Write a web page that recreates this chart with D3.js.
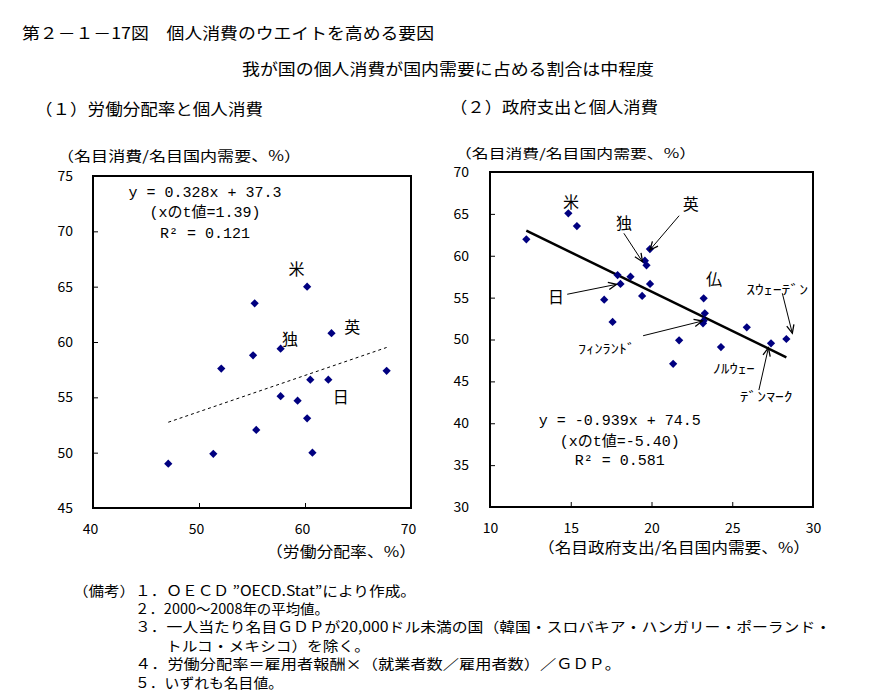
<!DOCTYPE html>
<html><head><meta charset="utf-8">
<script src="https://cdn.jsdelivr.net/npm/d3@7"></script>
<style>
html,body{margin:0;padding:0;background:#fff;}
svg{display:block;}
text{font-family:"Noto Sans CJK JP","Noto Sans",sans-serif;fill:#000;}
text.eq{font-family:"Liberation Mono","DejaVu Sans Mono","Noto Sans CJK JP",monospace;}
</style></head>
<body>
<svg id="chart" width="881" height="696"></svg>
<script>
// ---------- data ----------
const leftXTicks = [40, 50, 60, 70];
const leftYTicks = [45, 50, 55, 60, 65, 70, 75];
const laborShare = [47.1, 51.35, 52.1, 55.25, 55.1, 55.4, 57.7, 57.7, 59.3, 60.2, 60.2, 60.5, 60.7, 62.2, 62.5, 67.7];
const consumptionL = [49.0, 49.9, 57.6, 63.5, 58.8, 52.05, 59.4, 55.1, 54.7, 65.0, 53.1, 56.6, 50.0, 56.6, 60.8, 57.4];
const leftCoef = {slope: 0.328, intercept: 37.3};
const leftEq = ["y = 0.328x + 37.3", "(xのt値=1.39)", "R² = 0.121"];

const rightXTicks = [10, 15, 20, 25, 30];
const rightYTicks = [30, 35, 40, 45, 50, 55, 60, 65, 70];
const govShare = [12.25, 14.85, 15.38, 17.07, 17.59, 17.9, 18.08, 18.7, 19.42, 19.59, 19.69, 19.9, 19.91, 21.34, 21.71, 23.23, 23.3, 23.23, 23.19, 24.3, 25.9, 27.4, 28.35];
const consumptionR = [61.96, 65.07, 63.55, 54.75, 52.1, 57.7, 56.63, 57.5, 55.2, 59.41, 58.86, 60.8, 56.63, 47.1, 49.9, 54.92, 53.13, 52.24, 51.93, 49.1, 51.45, 49.55, 50.06];
const rightCoef = {slope: -0.939, intercept: 74.5};
const rightEq = ["y = -0.939x + 74.5", "(xのt値=-5.40)", "R² = 0.581"];

// label annotations (data coordinates)
const leftLabels = [
  {t: "米", x: 59.2, y: 66.66}, {t: "英", x: 64.46, y: 61.48},
  {t: "独", x: 58.58, y: 60.39}, {t: "日", x: 63.37, y: 55.15}
];
const rightLabels = [
  {t: "米", x: 15.01, y: 66.54, s: 16}, {t: "英", x: 22.43, y: 66.33, s: 16},
  {t: "独", x: 18.29, y: 64.07, s: 16}, {t: "仏", x: 23.87, y: 57.31, s: 16},
  {t: "日", x: 14.08, y: 55.19, s: 16},
  {t: "ﾌｨﾝﾗﾝﾄﾞ", x: 17.22, y: 49.02, s: 13, w: 57},
  {t: "ﾉﾙｳｪｰ", x: 25.09, y: 46.63, s: 13, w: 42},
  {t: "ﾃﾞﾝﾏｰｸ", x: 27.1, y: 43.37, s: 13, w: 53},
  {t: "ｽｳｪｰﾃﾞﾝ", x: 27.78, y: 56.11, s: 13, w: 62}
];
const rightArrows = [
  {x1: 18.29, y1: 62.68, x2: 19.44, y2: 59.29},
  {x1: 21.71, y1: 64.78, x2: 19.9, y2: 60.69},
  {x1: 14.78, y1: 55.4, x2: 17.84, y2: 56.59},
  {x1: 19.48, y1: 50.45, x2: 23.15, y2: 52.21},
  {x1: 26.65, y1: 43.97, x2: 27.24, y2: 49.02},
  {x1: 28.1, y1: 55.52, x2: 28.72, y2: 50.74}
];
const notes = [
  "１．ＯＥＣＤ ”OECD.Stat”により作成。",
  "２．2000～2008年の平均値。",
  "３．一人当たり名目ＧＤＰが20,000ドル未満の国（韓国・スロバキア・ハンガリー・ポーランド・",
  "トルコ・メキシコ）を除く。",
  "４．労働分配率＝雇用者報酬×（就業者数／雇用者数）／ＧＤＰ。",
  "５．いずれも名目値。"
];

// ---------- drawing ----------
const svg = d3.select("#chart");
function txt(s, x, y, opts = {}) {
  const t = svg.append("text").attr("x", x).attr("y", y)
    .attr("dominant-baseline", "central")
    .attr("font-size", opts.size || 15)
    .attr("text-anchor", opts.anchor || "start")
    .text(s);
  if (opts.len) t.attr("textLength", opts.len).attr("lengthAdjust", "spacingAndGlyphs");
  return t;
}

txt("第２－１－17図　個人消費のウエイトを高める要因", 22, 32, {size: 16, len: 412});
txt("我が国の個人消費が国内需要に占める割合は中程度", 242, 68, {size: 16, len: 412});
txt("（１）労働分配率と個人消費", 35, 108, {size: 16, len: 228});
txt("（２）政府支出と個人消費", 450, 106, {size: 16, len: 208});
txt("（名目消費/名目国内需要、%）", 57, 155, {size: 14, len: 244});
txt("（名目消費/名目国内需要、%）", 455, 152, {size: 13, len: 241});
txt("（労働分配率、%）", 266, 550, {size: 15, len: 150});
txt("（名目政府支出/名目国内需要、%）", 538, 546, {size: 15, len: 272});

// notes
txt("（備考）", 73, 590, {size: 14, len: 62});
const noteX = [135, 135, 135, 166, 135, 135];
const noteY = [590, 608, 626, 645, 663, 682];
const noteLen = [281, 194, 696, 204, 486, 148];
notes.forEach((n, i) => txt(n, noteX[i], noteY[i], {size: 14, len: noteLen[i]}));

const markerColor = "#000080";
const diamond = d3.symbol().type(d3.symbolSquare).size(34);

function panel(cfg) {
  const x = d3.scaleLinear().domain(cfg.xDomain).range([cfg.left, cfg.right]);
  const y = d3.scaleLinear().domain(cfg.yDomain).range([cfg.bottom, cfg.top]);
  const g = svg.append("g");
  // y axis
  g.append("g").attr("transform", `translate(${cfg.left},0)`)
    .call(d3.axisLeft(y).tickValues(cfg.yTicks).tickSize(-5).tickPadding(cfg.yPad).tickFormat(d3.format("d")))
    .call(a => { a.select(".domain").remove(); a.selectAll("line").attr("stroke", "#000").attr("stroke-width", 1);
      a.selectAll("text").attr("font-size", 14).attr("fill", "#000"); });
  // x axis
  g.append("g").attr("transform", `translate(0,${cfg.bottom})`)
    .call(d3.axisBottom(x).tickValues(cfg.xTicks).tickSize(-5).tickPadding(16).tickFormat(d3.format("d")))
    .call(a => { a.select(".domain").remove(); a.selectAll("line").attr("stroke", "#000").attr("stroke-width", 1);
      a.selectAll("text").attr("font-size", 14).attr("fill", "#000").attr("dx", cfg.xdx || 0); });
  // frame
  g.append("rect").attr("x", cfg.left).attr("y", cfg.top)
    .attr("width", cfg.right - cfg.left).attr("height", cfg.bottom - cfg.top)
    .attr("fill", "none").attr("stroke", "#000").attr("stroke-width", 2);
  // regression line
  const xs = d3.extent(cfg.xs);
  g.append("line")
    .attr("x1", x(xs[0])).attr("y1", y(cfg.coef.slope * xs[0] + cfg.coef.intercept))
    .attr("x2", x(xs[1])).attr("y2", y(cfg.coef.slope * xs[1] + cfg.coef.intercept))
    .attr("stroke", "#000").attr("stroke-width", cfg.lineW)
    .attr("stroke-dasharray", cfg.dash || null);
  // points
  g.selectAll("path.pt").data(cfg.xs.map((v, i) => [v, cfg.ys[i]])).join("path")
    .attr("class", "pt").attr("d", diamond)
    .attr("transform", d => `translate(${x(d[0])},${y(d[1])}) rotate(45)`)
    .attr("fill", markerColor);
  // labels
  cfg.labels.forEach(l => {
    const t = g.append("text").attr("x", x(l.x)).attr("y", y(l.y))
      .attr("text-anchor", "middle").attr("dominant-baseline", "central")
      .attr("font-size", l.s || 16).text(l.t);
    if (l.w) t.attr("textLength", l.w).attr("lengthAdjust", "spacingAndGlyphs");
  });
  // arrows
  (cfg.arrows || []).forEach(a => {
    const x1 = x(a.x1), y1 = y(a.y1), x2 = x(a.x2), y2 = y(a.y2);
    g.append("line").attr("x1", x1).attr("y1", y1).attr("x2", x2).attr("y2", y2)
      .attr("stroke", "#000").attr("stroke-width", 1);
    const ang = Math.atan2(y2 - y1, x2 - x1), L = 9, h = 0.42;
    const p = [[x2 - L * Math.cos(ang - h), y2 - L * Math.sin(ang - h)], [x2, y2],
               [x2 - L * Math.cos(ang + h), y2 - L * Math.sin(ang + h)]];
    g.append("path").attr("d", d3.line()(p)).attr("fill", "none")
      .attr("stroke", "#000").attr("stroke-width", 1.3);
  });
  // equation
  const ex = x(cfg.eqPos.x);
  cfg.eq.forEach((s, i) => {
    g.append("text").attr("class", "eq").attr("x", ex).attr("y", y(cfg.eqPos.y[i]))
      .attr("text-anchor", "middle").attr("dominant-baseline", "central")
      .attr("font-size", 15).text(s);
  });
}

panel({
  left: 93, right: 411, top: 176, bottom: 508,
  xDomain: [40, 70], yDomain: [45, 75], xTicks: leftXTicks, yTicks: leftYTicks, yPad: 20, xdx: -3,
  xs: laborShare, ys: consumptionL, coef: leftCoef, lineW: 1, dash: "3,3",
  labels: leftLabels, eq: leftEq, eqPos: {x: 50.57, y: [73.44, 71.63, 69.67]}
});
panel({
  left: 490, right: 813, top: 172, bottom: 507,
  xDomain: [10, 30], yDomain: [30, 70], xTicks: rightXTicks, yTicks: rightYTicks, yPad: 21,
  xs: govShare, ys: consumptionR, coef: rightCoef, lineW: 2.5,
  labels: rightLabels, arrows: rightArrows, eq: rightEq, eqPos: {x: 18.04, y: [40.18, 37.73, 35.41]}
});
</script>
</body></html>
